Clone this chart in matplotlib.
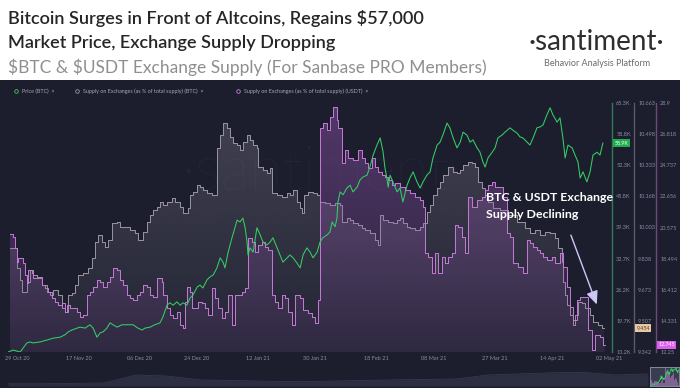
import numpy as np
import pandas as pd
import matplotlib
matplotlib.use("Agg")
import matplotlib.pyplot as plt
import matplotlib.colors as mcolors
from matplotlib.lines import Line2D
from matplotlib.patches import Rectangle
from matplotlib.transforms import blended_transform_factory

plt.rcParams['font.family'] = ['Lato', 'DejaVu Sans']

START = pd.Timestamp('2020-10-26')

# BTC price (K USD), (days since START, value)
price = [(0.0, 13.2), (1.6, 13.6), (3.8, 13.2), (4.7, 14.0), (5.9, 15.1), (6.9, 15.3), (7.8, 15.1), (10.0, 15.3),
         (12.2, 15.7), (14.1, 16.1), (16.3, 16.3), (17.8, 16.8), (18.8, 17.4), (20.0, 17.8), (21.6, 18.2),
         (22.5, 18.4), (24.1, 18.2), (25.6, 18.9), (26.6, 18.2), (27.8, 16.3), (28.8, 17.2), (29.7, 17.4),
         (30.9, 18.2), (31.9, 19.3), (32.8, 18.9), (34.1, 18.4), (35.6, 18.9), (37.2, 18.9), (39.1, 18.9),
         (40.6, 18.2), (41.9, 17.8), (42.8, 18.2), (44.4, 18.4), (45.9, 18.9), (47.5, 19.3), (48.4, 20.5),
         (49.7, 23.0), (50.6, 23.5), (51.6, 23.0), (52.8, 23.7), (53.8, 23.0), (54.7, 23.5), (55.9, 23.0),
         (56.9, 24.5), (57.8, 25.1), (59.1, 26.8), (60.0, 27.2), (60.9, 26.6), (62.2, 28.3), (63.1, 28.9),
         (64.1, 29.3), (65.3, 30.8), (66.3, 32.9), (67.2, 32.0), (67.8, 30.8), (68.8, 34.1), (70.0, 37.1),
         (70.9, 39.2), (71.6, 40.8), (72.5, 40.4), (73.4, 41.2), (74.1, 39.2), (74.7, 36.2), (75.0, 33.5),
         (75.6, 35.0), (76.6, 34.1), (77.8, 39.2), (78.8, 37.7), (79.7, 36.2), (80.9, 35.6), (81.9, 36.2),
         (82.8, 37.1), (84.1, 35.0), (85.0, 33.5), (85.9, 32.0), (87.2, 32.9), (88.1, 33.5), (89.1, 32.9),
         (90.3, 31.8), (91.3, 30.8), (92.2, 33.5), (93.4, 35.0), (94.4, 34.1), (95.3, 32.9), (96.6, 34.1),
         (97.5, 36.2), (98.4, 37.1), (99.7, 37.7), (100.6, 38.3), (101.3, 40.4), (102.2, 39.4), (102.8, 41.2),
         (103.1, 44.6), (103.8, 46.7), (104.7, 46.1), (105.9, 47.5), (106.9, 48.1), (107.8, 46.7), (109.1, 47.7),
         (110.0, 49.2), (110.9, 49.8), (112.2, 50.2), (113.1, 51.9), (114.1, 54.4), (115.3, 56.5), (116.3, 58.0),
         (117.2, 55.1), (117.8, 51.7), (118.4, 49.6), (118.8, 47.7), (119.4, 50.2), (120.3, 48.8), (121.6, 46.7),
         (122.5, 47.5), (123.4, 44.6), (124.7, 48.1), (125.6, 49.6), (126.6, 50.9), (127.8, 48.8), (128.8, 47.5),
         (129.7, 48.8), (130.9, 50.2), (131.9, 50.9), (132.8, 53.8), (134.1, 56.5), (135.0, 57.1), (135.9, 58.6),
         (137.2, 61.1), (138.1, 60.1), (139.1, 58.0), (140.3, 55.9), (141.3, 57.1), (142.2, 59.2), (143.4, 58.6),
         (144.4, 57.1), (145.3, 57.6), (146.6, 55.9), (147.5, 55.0), (148.4, 53.0), (149.1, 51.9), (150.0, 53.8),
         (151.3, 55.0), (152.2, 55.9), (153.1, 58.0), (154.4, 58.6), (155.3, 59.2), (156.9, 60.1), (157.8, 59.6),
         (159.1, 59.0), (160.0, 58.2), (160.9, 58.0), (162.2, 57.1), (163.1, 56.5), (164.1, 58.0), (165.3, 60.1),
         (166.3, 60.3), (167.2, 60.7), (168.4, 62.8), (169.4, 64.3), (170.3, 62.8), (171.6, 61.3), (172.5, 62.2),
         (173.4, 58.0), (174.1, 53.8), (175.0, 56.5), (176.3, 55.9), (177.2, 54.4), (178.1, 53.0), (178.8, 49.6),
         (179.7, 50.9), (180.9, 48.8), (181.9, 50.9), (182.8, 54.4), (184.1, 55.0), (185.0, 54.4), (185.9, 56.9)]

# BTC supply on exchanges (% of total supply)
btc_supply = [(0.6, 9.894), (2.2, 9.894), (2.8, 9.788), (3.8, 9.724), (4.4, 9.660), (5.3, 9.660), (5.9, 9.713),
              (6.9, 9.777), (7.8, 9.751), (9.1, 9.735), (10.6, 9.697), (12.2, 9.660), (13.1, 9.644), (14.1, 9.671),
              (15.6, 9.644), (16.9, 9.575), (17.8, 9.554), (18.8, 9.644), (20.0, 9.655), (20.9, 9.697), (21.9, 9.751),
              (23.4, 9.761), (25.0, 9.788), (26.3, 9.841), (27.2, 9.926), (28.1, 9.963), (29.4, 9.926), (30.3, 9.899),
              (31.3, 9.936), (32.5, 10.026), (34.1, 10.032), (35.0, 10.005), (36.6, 10.005), (38.1, 9.989),
              (39.7, 9.973), (40.6, 9.936), (42.2, 9.979), (43.4, 10.032), (44.4, 10.069), (45.3, 10.095),
              (46.6, 10.111), (47.5, 10.138), (48.4, 10.122), (49.7, 10.138), (51.3, 10.159), (52.2, 10.138),
              (53.8, 10.111), (54.7, 10.079), (56.3, 10.106), (56.9, 10.175), (57.8, 10.191), (59.1, 10.228),
              (60.0, 10.217), (60.9, 10.201), (62.2, 10.186), (63.8, 10.175), (64.7, 10.175), (65.3, 10.424),
              (66.3, 10.493), (67.2, 10.557), (68.4, 10.530), (69.4, 10.483), (70.3, 10.451), (71.6, 10.440),
              (72.5, 10.414), (73.4, 10.456), (74.7, 10.493), (75.6, 10.467), (76.6, 10.440), (77.8, 10.424),
              (78.1, 10.323), (79.7, 10.308), (80.9, 10.292), (81.9, 10.318), (82.5, 10.186), (84.1, 10.175),
              (85.6, 10.164), (87.2, 10.186), (88.1, 10.175), (89.1, 10.201), (90.3, 10.138), (91.3, 10.106),
              (91.9, 10.079), (92.5, 10.175), (93.8, 10.191), (95.3, 10.186), (96.6, 10.175), (97.5, 10.138),
              (99.1, 10.132), (100.6, 10.122), (102.2, 10.132), (103.8, 10.122), (104.4, 10.032), (105.9, 10.053),
              (106.9, 10.042), (107.8, 10.026), (109.4, 10.016), (110.6, 10.000), (111.6, 9.989), (113.1, 9.973),
              (114.7, 9.936), (115.6, 9.910), (116.3, 10.069), (117.2, 10.042), (118.8, 10.032), (120.3, 10.026),
              (121.6, 10.042), (122.5, 10.053), (123.4, 10.026), (124.7, 10.005), (125.6, 10.000), (127.2, 9.989),
              (128.8, 10.005), (129.7, 10.026), (130.9, 10.085), (131.9, 10.122), (132.8, 10.175), (134.1, 10.212),
              (135.0, 10.244), (135.9, 10.281), (137.5, 10.323), (139.1, 10.297), (140.3, 10.292), (141.3, 10.308),
              (142.2, 10.334), (143.8, 10.350), (145.0, 10.345), (145.9, 10.323), (146.9, 10.244), (148.1, 10.212),
              (149.1, 10.175), (150.0, 10.138), (151.6, 10.106), (153.8, 10.095), (156.3, 10.069), (159.1, 10.032),
              (161.6, 10.000), (163.1, 9.973), (164.7, 9.989), (166.3, 9.963), (167.8, 9.979), (169.4, 9.973),
              (170.9, 9.947), (171.9, 9.894), (173.1, 9.820), (173.4, 9.713), (174.1, 9.644), (174.7, 9.591),
              (175.6, 9.538), (176.6, 9.485), (177.2, 9.538), (178.1, 9.607), (179.4, 9.602), (180.3, 9.575),
              (181.9, 9.538), (182.8, 9.501), (184.4, 9.485), (185.6, 9.469)]

# USDT supply on exchanges (% of total supply)
usdt_supply = [(0.6, 20.14), (1.6, 19.94), (2.2, 19.20), (2.8, 18.27), (3.1, 18.54), (4.4, 18.54), (4.7, 18.20),
               (5.3, 17.40), (5.9, 16.86), (6.3, 17.73), (7.5, 17.53), (7.8, 17.20), (9.1, 17.26), (10.0, 17.26),
               (10.6, 16.73), (11.6, 16.53), (12.5, 16.26), (13.8, 15.86), (14.7, 15.59), (15.6, 15.39),
               (16.9, 15.53), (17.8, 14.92), (18.4, 15.39), (19.4, 15.19), (20.3, 15.19), (21.6, 14.92),
               (22.5, 14.59), (23.4, 14.72), (24.7, 16.06), (25.6, 16.26), (26.6, 16.60), (27.8, 17.06),
               (28.8, 16.93), (29.7, 16.60), (30.9, 16.93), (31.9, 17.26), (32.8, 17.87), (34.1, 17.73),
               (35.0, 17.06), (35.9, 16.73), (37.2, 16.06), (38.1, 15.86), (39.1, 15.73), (40.3, 16.06),
               (41.3, 16.26), (42.2, 16.73), (43.4, 16.60), (44.4, 16.06), (45.3, 15.93), (46.6, 17.20),
               (48.1, 16.93), (48.4, 16.06), (49.7, 15.19), (50.6, 14.72), (51.6, 14.52), (52.8, 14.92),
               (53.8, 14.06), (54.7, 13.85), (55.3, 15.59), (55.9, 16.60), (56.9, 16.26), (57.5, 15.19),
               (58.4, 15.19), (59.4, 15.59), (60.6, 15.53), (61.6, 15.19), (62.5, 14.72), (63.8, 16.53),
               (64.7, 15.86), (65.6, 15.19), (66.9, 14.52), (67.8, 14.92), (68.8, 16.06), (70.0, 14.06),
               (70.9, 16.06), (71.9, 16.06), (73.1, 16.26), (74.1, 16.53), (75.0, 19.87), (76.3, 19.61),
               (77.2, 18.94), (78.1, 19.40), (79.4, 19.61), (80.3, 19.27), (81.3, 19.07), (82.5, 16.06),
               (83.4, 15.59), (84.4, 15.19), (85.6, 16.06), (86.6, 15.86), (87.5, 14.92), (88.8, 14.06),
               (89.7, 16.06), (91.3, 15.86), (92.2, 15.06), (93.8, 14.86), (95.0, 14.59), (95.9, 14.19),
               (96.9, 15.73), (97.5, 27.23), (98.4, 27.56), (99.7, 27.09), (100.6, 27.96), (101.6, 28.63),
               (102.8, 27.76), (103.1, 27.23), (104.4, 24.89), (105.3, 25.76), (106.3, 25.22), (107.8, 25.09),
               (109.4, 25.76), (110.6, 25.22), (111.6, 24.89), (112.5, 24.55), (113.8, 25.22), (114.7, 24.62),
               (115.6, 24.29), (116.9, 24.09), (117.8, 23.95), (118.8, 23.75), (120.0, 23.42), (120.9, 23.55),
               (122.5, 23.28), (124.1, 23.08), (125.6, 22.88), (127.2, 22.61), (128.8, 22.41), (129.7, 21.95),
               (130.3, 18.87), (131.3, 18.60), (132.5, 17.53), (133.4, 18.87), (134.4, 17.53), (135.6, 18.60),
               (136.6, 18.20), (137.5, 18.60), (138.8, 18.87), (139.7, 20.74), (140.6, 20.61), (141.9, 19.94),
               (142.8, 18.87), (143.8, 22.61), (145.0, 21.95), (146.6, 22.41), (148.1, 22.61), (149.1, 23.08),
               (150.0, 23.42), (151.3, 23.62), (152.2, 23.28), (153.8, 23.28), (154.7, 22.61), (155.9, 20.21),
               (156.9, 19.94), (157.8, 18.20), (159.4, 17.93), (160.9, 17.53), (162.2, 19.74), (163.1, 19.54),
               (164.1, 19.27), (165.3, 19.07), (166.3, 18.87), (167.2, 18.60), (168.4, 18.40), (170.0, 18.60),
               (170.9, 18.20), (172.5, 18.87), (173.4, 17.93), (174.7, 16.60), (175.6, 15.26), (176.6, 14.39),
               (177.8, 15.73), (178.8, 15.93), (180.3, 15.93), (181.3, 13.72), (182.5, 12.38), (183.4, 13.39),
               (185.0, 13.25), (185.9, 12.72)]

# right-hand axes ticks
price_ticks = [13.2, 19.7, 26.2, 32.7, 39.3, 45.8, 52.3, 58.8, 65.3]
price_labels = ['13.2K', '19.7K', '26.2K', '32.7K', '39.3K', '45.8K', '52.3K', '58.8K', '65.3K']
btc_ticks = [9.342, 9.507, 9.673, 9.838, 10.003, 10.168, 10.333, 10.498, 10.663]
usdt_ticks = [12.25, 14.331, 16.412, 18.494, 20.575, 22.656, 24.737, 26.818, 28.9]
usdt_labels = ['12.25', '14.331', '16.412', '18.494', '20.575', '22.656', '24.737', '26.818', '28.9']

date_ticks = ['2020-10-29', '2020-11-17', '2020-12-06', '2020-12-24', '2021-01-12', '2021-01-30',
              '2021-02-18', '2021-03-08', '2021-03-27', '2021-04-14', '2021-05-02']
date_labels = ['29 Oct 20', '17 Nov 20', '06 Dec 20', '24 Dec 20', '12 Jan 21', '30 Jan 21',
               '18 Feb 21', '08 Mar 21', '27 Mar 21', '14 Apr 21', '02 May 21']

# navigator mini-chart levels (relative)
nav_levels = [0.10, 0.10, 0.12, 0.14, 0.50, 0.45, 0.28, 0.25, 0.22, 0.20, 0.22,
              0.25, 0.28, 0.30, 0.32, 0.50, 0.55, 0.60, 0.62, 0.50, 0.55]

BG = '#1c1e2e'
GREEN = '#34cf63'
GRAY = '#9b95a2'
PURPLE = '#c67ad8'
TICK = '#8a8ea2'

W, H = 680, 388
fig = plt.figure(figsize=(W / 100, H / 100), dpi=100, facecolor='white')


def fx(px):
    return px / W


def fy(py):
    return 1 - py / H


# dark panel
fig.add_artist(Rectangle((0, 0), 1, fy(80), transform=fig.transFigure, facecolor=BG, edgecolor='none', zorder=0))

# header
fig.text(fx(8), fy(24), 'Bitcoin Surges in Front of Altcoins, Regains \\$57,000', fontsize=13.1,
         fontweight='semibold', color='#262626', va='baseline')
fig.text(fx(8), fy(48), 'Market Price, Exchange Supply Dropping', fontsize=13.1,
         fontweight='semibold', color='#262626', va='baseline')
fig.text(fx(8), fy(73), '\\$BTC & \\$USDT Exchange Supply (For Sanbase PRO Members)', fontsize=12.5,
         color='#8f8f8f', va='baseline')
fig.text(fx(596), fy(50), '\u00b7santiment\u00b7', fontsize=20, color='#2e2e2e', fontweight='normal',
         ha='center', va='baseline')
fig.text(fx(597), fy(66), 'Behavior Analysis Platform', fontsize=6.5, color='#6b6b6b', ha='center', va='baseline')

# legend row
legend_items = [(16, GREEN, 'Price (BTC)  \u00d7'),
                (77, GRAY, 'Supply on Exchanges (as % of total supply) (BTC)  \u00d7'),
                (238, PURPLE, 'Supply on Exchanges (as % of total supply) (USDT)  \u00d7')]
for px, col, txt in legend_items:
    fig.add_artist(Line2D([fx(px)], [fy(91)], marker='o', ms=2.6, mfc='none', mec=col, mew=0.6,
                          transform=fig.transFigure))
    fig.text(fx(px + 6), fy(91), txt, fontsize=3.9, color='#a4a7b8', va='center')

# main axes
left, right, top, bottom = 8, 612, 103, 352
ax_btc = fig.add_axes([fx(left), fy(bottom), fx(right - left), (bottom - top) / H])
ax_btc.set_facecolor(BG)
ax_usdt = ax_btc.twinx()
ax_price = ax_btc.twinx()

x_end = 188.75


def arr(pairs):
    a = np.array(pairs)
    return a[:, 0], a[:, 1]


def gradient_fill(ax, x, y, color, a_top, a_bot, ylim):
    poly = ax.fill_between(x, y, ylim[0], step='post', facecolor='none', edgecolor='none')
    grad = np.zeros((200, 1, 4))
    grad[..., :3] = mcolors.to_rgb(color)
    grad[:, 0, 3] = np.linspace(a_bot, a_top, 200)
    im = ax.imshow(grad, extent=[x[0], x[-1], ylim[0], ylim[1]], aspect='auto', origin='lower', zorder=1)
    im.set_clip_path(poly.get_paths()[0], transform=ax.transData)


bx, by = arr(btc_supply)
bx, by = np.append(bx, bx[-1] + 0.6), np.append(by, by[-1])
ux, uy = arr(usdt_supply)
ux, uy = np.append(ux, ux[-1] + 0.6), np.append(uy, uy[-1])
px_, py_ = arr(price)

btc_lim = (btc_ticks[0], btc_ticks[-1])
usdt_lim = (usdt_ticks[0], usdt_ticks[-1])
price_lim = (price_ticks[0], price_ticks[-1])

gradient_fill(ax_btc, bx, by, '#9d96a6', 0.3, 0.05, btc_lim)
ax_btc.plot(bx, by, drawstyle='steps-post', color=GRAY, lw=0.7, zorder=3)

gradient_fill(ax_usdt, ux, uy, '#a05bbd', 0.42, 0.1, usdt_lim)
ax_usdt.plot(ux, uy, drawstyle='steps-post', color=PURPLE, lw=0.7, zorder=3)

ax_price.plot(px_, py_, color=GREEN, lw=0.75, zorder=4)

# watermark
ax_btc.text(0.52, 0.72, '\u00b7santiment\u00b7', transform=ax_btc.transAxes, fontsize=44, color='white',
            alpha=0.04, ha='center', va='center', fontweight='light')

for ax, lim in [(ax_btc, btc_lim), (ax_usdt, usdt_lim), (ax_price, price_lim)]:
    ax.set_xlim(0, x_end)
    ax.set_ylim(*lim)
    for s in ['top', 'left', 'bottom']:
        ax.spines[s].set_visible(False)
    ax.tick_params(axis='y', length=0, pad=3, labelsize=4, labelcolor=TICK)
    ax.yaxis.tick_right()

ax_btc.set_yticks(btc_ticks, [f'{t:.3f}' for t in btc_ticks])
ax_usdt.set_yticks(usdt_ticks, usdt_labels)
ax_price.set_yticks(price_ticks, price_labels)

ax_price.spines['right'].set_position(('axes', 1.0))
ax_price.spines['right'].set_color('#2f7a58')
ax_btc.spines['right'].set_position(('axes', 1 + 22 / (right - left)))
ax_btc.spines['right'].set_color('#5b5a66')
ax_usdt.spines['right'].set_position(('axes', 1 + 44 / (right - left)))
ax_usdt.spines['right'].set_color('#6c4a80')
for ax in (ax_btc, ax_usdt, ax_price):
    ax.spines['right'].set_linewidth(1.0)

tick_pos = [(pd.Timestamp(d) - START).days for d in date_ticks]
ax_btc.set_xticks(tick_pos, date_labels)
ax_btc.tick_params(axis='x', length=0, pad=3, labelsize=4, labelcolor=TICK)

# current value boxes
for ax, val, txt, fc, tc in [(ax_price, py_[-1], '58.9K', '#1fae4f', 'white'),
                             (ax_btc, by[-1], '9.454', '#e6c7a6', '#5a4030'),
                             (ax_usdt, uy[-1], '12.745', '#dc5ff0', 'white')]:
    tr = blended_transform_factory(ax.transAxes, ax.transData)
    xpos = ax.spines['right'].get_position()[1] + 0.004
    ax.text(xpos, val, txt, transform=tr, fontsize=3.8, color=tc, va='center', ha='left', clip_on=False,
            bbox=dict(boxstyle='square,pad=0.25', fc=fc, ec='none'), zorder=6)

# annotation
ax_price.text(149.5, 46.6, 'BTC & USDT Exchange\nSupply Declining', fontsize=8.9, fontweight='bold',
              color='white', va='top', ha='left', linespacing=1.6, zorder=6)
ax_price.annotate('', xy=(184.3, 22.6), xytext=(175.6, 38.2),
                  arrowprops=dict(arrowstyle='-|>,head_length=0.8,head_width=0.35', color='#cfc8f5', lw=1.0),
                  zorder=6)

# navigator
nav = fig.add_axes([fx(8), fy(386), fx(640), 22 / H])
nav.set_facecolor(BG)
nx = np.arange(len(nav_levels))
nav.fill_between(nx, nav_levels, 0, color='#2c2f42', lw=0)
nav.plot(nx, nav_levels, color='#3a3d52', lw=0.5)
nav.set_xlim(0, len(nav_levels) - 1)
nav.set_ylim(0, 1)
nav.axis('off')

thumb = fig.add_axes([fx(650), fy(386), fx(29), 19 / H])
thumb.set_facecolor('#3a3c50')
thumb.fill_between(ux, uy, usdt_lim[0], step='post', color='#b07cc0', alpha=0.6, lw=0)
thumb.set_ylim(*usdt_lim)
thumb.set_xlim(0, x_end)
thumb2 = thumb.twinx()
thumb2.plot(px_, py_, color=GREEN, lw=0.5)
thumb2.set_ylim(*price_lim)
for a in (thumb, thumb2):
    a.set_xticks([])
    a.set_yticks([])
    for s in a.spines.values():
        s.set_color('#8c8ea0')
        s.set_linewidth(0.5)

fig.savefig('out.png', dpi=100, facecolor=fig.get_facecolor())
